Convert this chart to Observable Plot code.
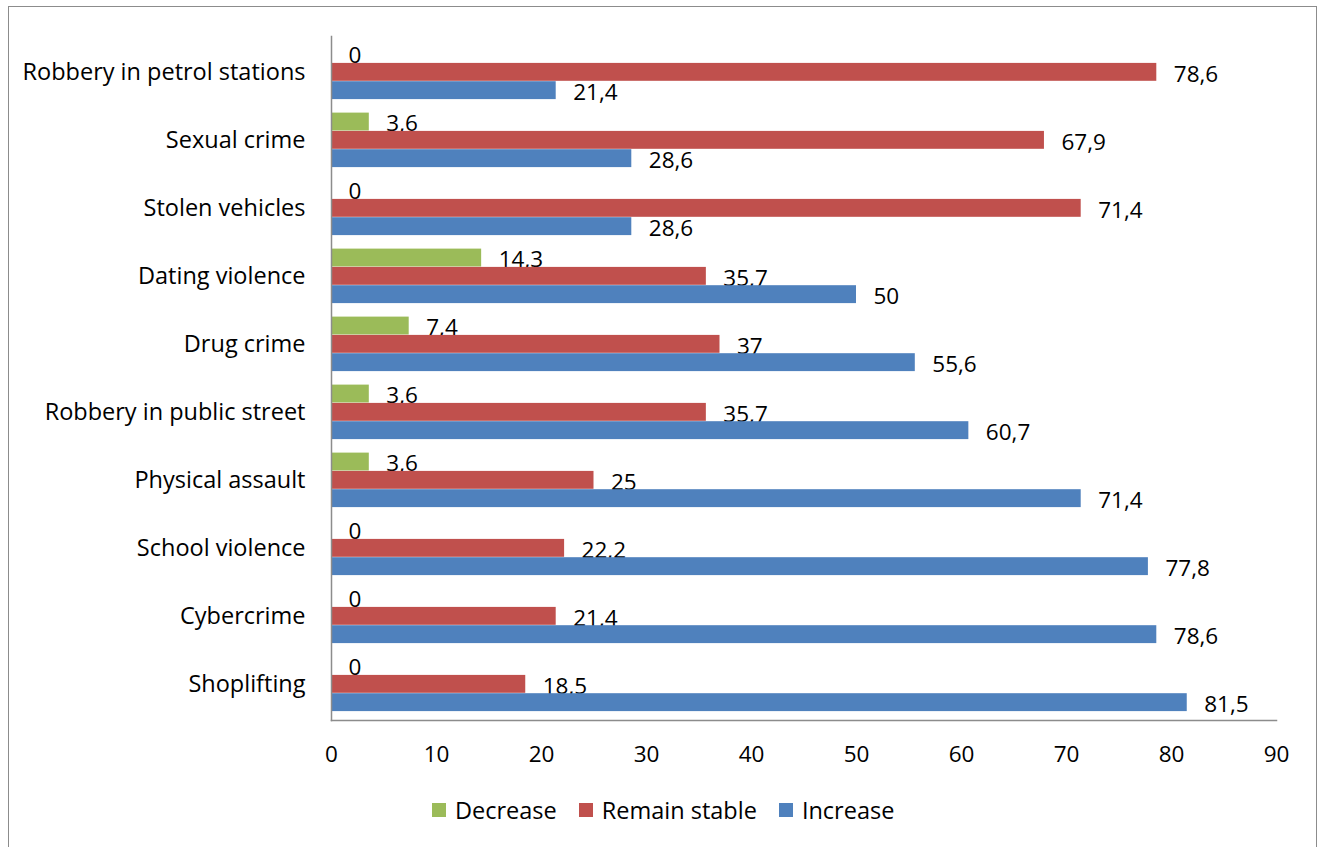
<!DOCTYPE html>
<html>
<head>
<meta charset="utf-8">
<script src="https://cdn.jsdelivr.net/npm/d3@7"></script>
<script src="https://cdn.jsdelivr.net/npm/@observablehq/plot@0.6"></script>
<style>
  html, body { margin: 0; padding: 0; background: #fff; }
  body { width: 1323px; height: 847px; position: relative; overflow: hidden; font-family: "Open Sans", sans-serif; }
  #frame { position: absolute; left: 8px; top: 6px; width: 1309px; height: 900px; border: 1.5px solid #8c8c8c; box-sizing: border-box; }
  #chart { position: absolute; left: 0; top: 0; }
  #legend { position: absolute; top: 794px; left: 432px; display: flex; align-items: center; font-size: 23.5px; color: #000; }
  #legend .item { display: flex; align-items: center; margin-right: 22px; }
  #legend .sw { width: 14px; height: 14px; margin-right: 9px; }
  #chart svg g[aria-label="y-axis tick label"] text { font-size: 23.5px; }
</style>
</head>
<body>
<div id="frame"></div>
<div id="chart"></div>
<div id="legend"></div>
<script>
const categories = [
  "Robbery in petrol stations",
  "Sexual crime",
  "Stolen vehicles",
  "Dating violence",
  "Drug crime",
  "Robbery in public street",
  "Physical assault",
  "School violence",
  "Cybercrime",
  "Shoplifting"
];
const decrease     = [0, 3.6, 0, 14.3, 7.4, 3.6, 3.6, 0, 0, 0];
const remainStable = [78.6, 67.9, 71.4, 35.7, 37, 35.7, 25, 22.2, 21.4, 18.5];
const increase     = [21.4, 28.6, 28.6, 50, 55.6, 60.7, 71.4, 77.8, 78.6, 81.5];
const seriesNames  = ["Decrease", "Remain stable", "Increase"];
const seriesColors = ["#9BBB59", "#C0504D", "#4F81BD"];
const xTicks = [0, 10, 20, 30, 40, 50, 60, 70, 80, 90];

const seriesValues = [decrease, remainStable, increase];
const rows = [];
seriesNames.forEach((s, si) => {
  categories.forEach((c, ci) => rows.push({category: c, series: s, si, value: seriesValues[si][ci]}));
});
const fmt = v => String(v).replace(".", ",");

// vertical layout within each category band (pixels)
const barH = 18.3, groupTop = 6.6;
const bandH = (780 - 36 - 60) / categories.length;

const marks = [];
seriesNames.forEach((s, si) => {
  const data = rows.filter(r => r.si === si);
  const top = groupTop + si * barH;
  marks.push(Plot.barX(data, {
    x: "value", y: "category", fill: seriesColors[si],
    insetTop: top, insetBottom: bandH - top - barH
  }));
  marks.push(Plot.text(data, {
    x: "value", y: "category", text: d => fmt(d.value),
    dx: 17, dy: top + barH / 2 - bandH / 2 + 2,
    textAnchor: "start", fontSize: 22.5, fill: "#000"
  }));
});

const plot = Plot.plot({
  width: 1323,
  height: 780,
  marginTop: 36,
  marginBottom: 60,
  marginLeft: 331,
  marginRight: 47,
  style: {fontFamily: "Open Sans, sans-serif", fontSize: "22.5px", color: "#000", background: "transparent", overflow: "visible"},
  x: {domain: [0, 90], ticks: xTicks, tickSize: 0, tickPadding: 26, label: null, tickFormat: d => String(d)},
  y: {domain: categories, padding: 0, tickSize: 0, tickPadding: 26, label: null},
  marks: [
    ...marks,
    Plot.axisY({tickSize: 0, tickPadding: 26, fontSize: 23.5, label: null}),
    Plot.frame({anchor: "left", stroke: "#8c8c8c", strokeWidth: 1.5}),
    Plot.frame({anchor: "bottom", stroke: "#8c8c8c", strokeWidth: 1.5})
  ]
});
document.getElementById("chart").appendChild(plot);

const legend = document.getElementById("legend");
seriesNames.forEach((s, i) => {
  const item = document.createElement("div");
  item.className = "item";
  const sw = document.createElement("div");
  sw.className = "sw";
  sw.style.background = seriesColors[i];
  const t = document.createElement("span");
  t.textContent = s;
  item.appendChild(sw);
  item.appendChild(t);
  legend.appendChild(item);
});
</script>
</body>
</html>
